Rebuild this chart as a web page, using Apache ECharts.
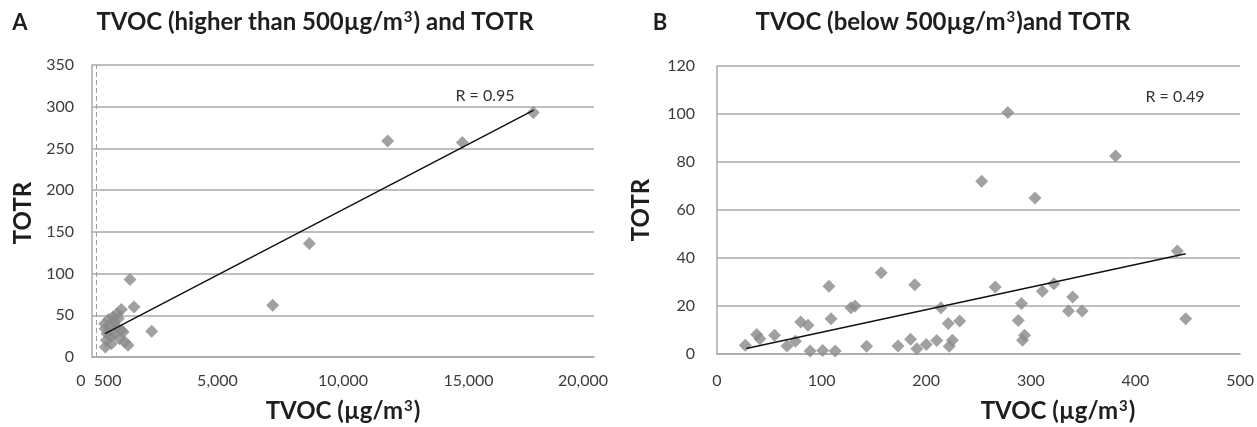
<!DOCTYPE html>
<html>
<head>
<meta charset="utf-8">
<script src="https://cdn.jsdelivr.net/npm/echarts@6/dist/echarts.min.js"></script>
<style>
html,body{margin:0;padding:0;background:#fff;}
#c{width:1257px;height:427px;}
</style>
</head>
<body>
<div id="c"></div>
<script>
// Panel A: TVOC higher than 500 µg/m3
const aTVOC = [17582, 11780, 14753, 8657, 7199, 1514, 1673, 2378, 1434, 530, 570, 520, 505, 665, 705, 837, 969, 1008, 1168, 1168, 904, 1104, 1303, 769, 600, 880, 1050, 760, 1240];
const aTOTR = [293, 259, 257, 136, 62, 93, 60, 31, 14, 12, 20, 34, 40, 45, 38, 48, 36, 52, 57, 32, 28, 22, 18, 16, 28, 42, 46, 25, 30];
const aTrendX = [520, 17600];
const aTrendY = [28, 296];

// Panel B: TVOC below 500 µg/m3
const bTVOC = [27, 38, 41, 55, 67, 75, 80, 87, 89, 101, 113, 107, 109, 128, 132, 143, 157, 173, 185, 189, 191, 200, 210, 214, 221, 222, 225, 232, 253, 278, 266, 304, 291, 288, 294, 292, 311, 322, 340, 336, 349, 381, 440, 448];
const bTOTR = [3.6, 8.1, 6.4, 7.8, 3.3, 5.3, 13.3, 12, 1.3, 1.5, 1.3, 28.2, 14.7, 19.3, 20, 3.2, 33.9, 3.3, 6.1, 28.9, 2.2, 4.0, 5.6, 19.3, 12.7, 3.2, 5.7, 13.8, 72, 100.6, 27.9, 65, 21, 14, 7.8, 5.7, 26.1, 29.3, 23.8, 17.9, 17.9, 82.5, 42.9, 14.7];
const bTrendX = [28, 448];
const bTrendY = [2.3, 41.8];

const dashRefA = 160;
const extraTickA = 500;

const FONT = 'Lato, "Open Sans", sans-serif';
const LABEL = '#3c3c3c';
const GRIDC = '#a9a9a9';
const MARK = '#8a8a8a';
const TICKFS = 16;

const zip = (xs, ys) => xs.map((x, i) => [x, ys[i]]);

const chart = echarts.init(document.getElementById('c'), null, {renderer: 'canvas'});

function fmtA(v) {
  if (v === 0) return '{z|0}';
  if (v === 20000) return '{e|20,000}';
  return v.toLocaleString('en-US');
}

const option = {
  backgroundColor: '#ffffff',
  animation: false,
  grid: [
    {left: 92, top: 65, width: 502, height: 292},
    {left: 717, top: 66, width: 526, height: 288}
  ],
  xAxis: [
    {
      gridIndex: 0, type: 'value', min: 0, max: 20000, interval: 5000,
      axisLine: {show: true, lineStyle: {color: GRIDC, width: 1.5}},
      axisTick: {show: false},
      splitLine: {show: false},
      axisLabel: {
        color: LABEL, fontFamily: FONT, fontSize: TICKFS, margin: 16,
        formatter: fmtA,
        rich: {
          z: {color: LABEL, fontFamily: FONT, fontSize: TICKFS, padding: [0, 22, 0, 0]},
          e: {color: LABEL, fontFamily: FONT, fontSize: TICKFS, padding: [0, 22, 0, 0]}
        }
      }
    },
    {
      gridIndex: 1, type: 'value', min: 0, max: 500, interval: 100,
      axisLine: {show: true, lineStyle: {color: GRIDC, width: 1.5}},
      axisTick: {show: false},
      splitLine: {show: false},
      axisLabel: {color: LABEL, fontFamily: FONT, fontSize: TICKFS, margin: 19}
    }
  ],
  yAxis: [
    {
      gridIndex: 0, type: 'value', min: 0, max: 350, interval: 50,
      axisLine: {show: true, lineStyle: {color: GRIDC, width: 1.5}},
      axisTick: {show: false},
      splitLine: {show: true, lineStyle: {color: GRIDC, width: 1.5}},
      axisLabel: {color: LABEL, fontFamily: FONT, fontSize: TICKFS, margin: 18}
    },
    {
      gridIndex: 1, type: 'value', min: 0, max: 120, interval: 20,
      axisLine: {show: true, lineStyle: {color: GRIDC, width: 1.5}},
      axisTick: {show: false},
      splitLine: {show: true, lineStyle: {color: GRIDC, width: 1.5}},
      axisLabel: {color: LABEL, fontFamily: FONT, fontSize: TICKFS, margin: 22}
    }
  ],
  series: [
    {
      type: 'scatter', xAxisIndex: 0, yAxisIndex: 0,
      data: zip(aTVOC, aTOTR),
      symbol: 'diamond', symbolSize: 13,
      itemStyle: {color: MARK},
      markLine: {
        silent: true, symbol: 'none',
        lineStyle: {color: '#a0a0a0', type: [5, 3], width: 1},
        label: {show: false},
        data: [{xAxis: dashRefA}]
      },
      z: 3
    },
    {
      type: 'line', xAxisIndex: 0, yAxisIndex: 0,
      data: zip(aTrendX, aTrendY),
      showSymbol: false, symbol: 'none',
      lineStyle: {color: '#111', width: 1.5},
      z: 4
    },
    {
      type: 'scatter', xAxisIndex: 1, yAxisIndex: 1,
      data: zip(bTVOC, bTOTR),
      symbol: 'diamond', symbolSize: 13,
      itemStyle: {color: MARK},
      z: 3
    },
    {
      type: 'line', xAxisIndex: 1, yAxisIndex: 1,
      data: zip(bTrendX, bTrendY),
      showSymbol: false, symbol: 'none',
      lineStyle: {color: '#111', width: 1.5},
      z: 4
    }
  ]
};
chart.setOption(option);

// texts
const T = '#1e1e1e';
const px500 = chart.convertToPixel({xAxisIndex: 0}, extraTickA);
const py0A = chart.convertToPixel({yAxisIndex: 0}, 0);

function titleRich(size) {
  return {
    t: {font: 'bold ' + size + 'px ' + FONT, fill: T, color: T},
    s: {font: 'bold ' + Math.round(size * 0.62) + 'px ' + FONT, fill: T, color: T, padding: [0, 1, Math.round(size * 0.42), 1]}
  };
}

const gfx = [
  {type: 'text', x: 20, y: 23, style: {text: 'A', font: 'bold 22px ' + FONT, fill: T, align: 'center', verticalAlign: 'middle'}},
  {type: 'text', x: 315, y: 22, style: {text: '{t|TVOC (higher than 500µg/m}{s|3}{t|) and TOTR}', rich: titleRich(24), font: 'bold 24px ' + FONT, fill: T, align: 'center', verticalAlign: 'middle'}},
  {type: 'text', x: 660, y: 23, style: {text: 'B', font: 'bold 22px ' + FONT, fill: T, align: 'center', verticalAlign: 'middle'}},
  {type: 'text', x: 943, y: 22, style: {text: '{t|TVOC (below 500µg/m}{s|3}{t|)and TOTR}', rich: titleRich(24), font: 'bold 24px ' + FONT, fill: T, align: 'center', verticalAlign: 'middle'}},
  {type: 'text', x: px500 + 3, y: py0A + 16, style: {text: String(extraTickA), font: TICKFS + 'px ' + FONT, fill: LABEL, align: 'center', verticalAlign: 'top'}},
  {type: 'text', x: 343, y: 411, style: {text: '{t|TVOC (µg/m}{s|3}{t|)}', rich: titleRich(24), font: 'bold 24px ' + FONT, fill: T, align: 'center', verticalAlign: 'middle'}},
  {type: 'text', x: 1058, y: 411, style: {text: '{t|TVOC (µg/m}{s|3}{t|)}', rich: titleRich(24), font: 'bold 24px ' + FONT, fill: T, align: 'center', verticalAlign: 'middle'}},
  {type: 'text', x: 23, y: 213, rotation: Math.PI / 2, style: {text: 'TOTR', font: 'bold 24px ' + FONT, fill: T, align: 'center', verticalAlign: 'middle'}},
  {type: 'text', x: 641, y: 210, rotation: Math.PI / 2, style: {text: 'TOTR', font: 'bold 24px ' + FONT, fill: T, align: 'center', verticalAlign: 'middle'}},
  {type: 'text', x: 485, y: 96, style: {text: 'R = 0.95', font: '16px ' + FONT, fill: '#333', align: 'center', verticalAlign: 'middle'}},
  {type: 'text', x: 1175, y: 97, style: {text: 'R = 0.49', font: '16px ' + FONT, fill: '#333', align: 'center', verticalAlign: 'middle'}}
];
chart.setOption({graphic: gfx});
</script>
</body>
</html>
